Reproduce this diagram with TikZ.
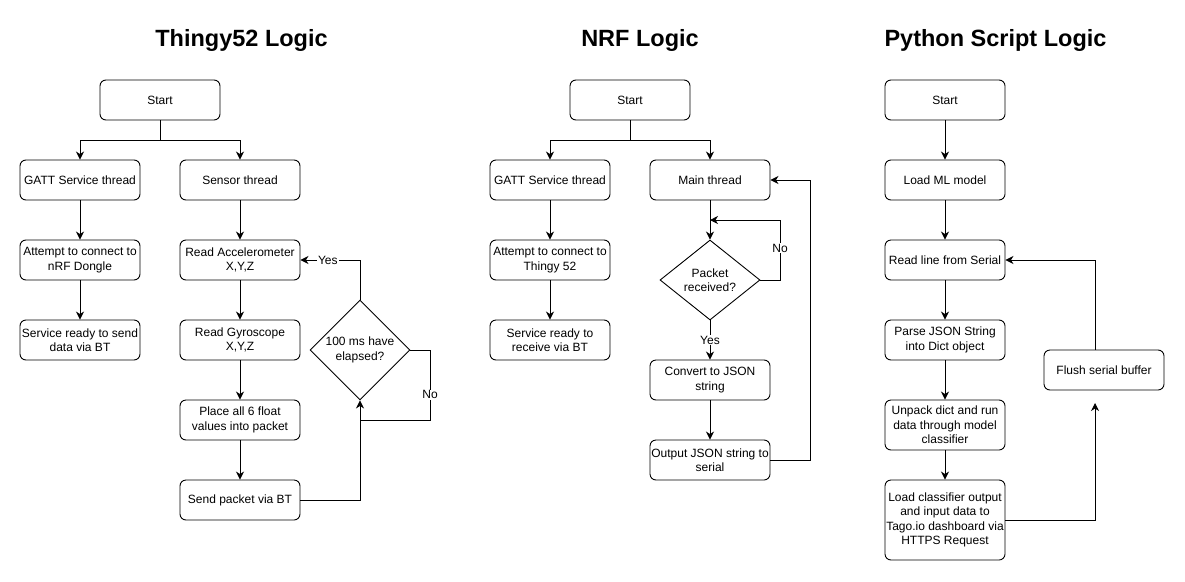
\documentclass[tikz,border=0pt]{standalone}
\usepackage{fontspec}
\setmainfont{Liberation Sans}
\usetikzlibrary{shapes.geometric,arrows.meta}
\tikzset{
  box/.style={draw, rounded corners=6pt, minimum width=120pt, minimum height=40pt, align=center, inner sep=1pt, font=\fontsize{12}{14.5}\selectfont, line width=0.9pt},
  dec/.style={draw, diamond, inner sep=0pt, align=center, font=\fontsize{12}{14.5}\selectfont, line width=0.9pt},
  title/.style={font=\fontsize{23.5}{26}\selectfont\bfseries},
  arr/.style={line width=0.9pt, -{Stealth[length=8pt,width=8pt,inset=2.5pt]}},
  ln/.style={line width=0.9pt},
  lbl/.style={fill=white, inner sep=1pt, font=\fontsize{12}{14}\selectfont}
}
\begin{document}
\begin{tikzpicture}[x=1pt,y=-1pt]
\useasboundingbox (0,0) rectangle (1185,581);
% titles
\node[title] (t1) at (241.5,40) {Thingy52 Logic};
\node[title] (t2) at (640,40) {NRF Logic};
\node[title] (t3) at (995.5,40) {Python Script Logic};
% ---------- Thingy52 ----------
\node[box] (s1) at (160,100) {Start};
\node[box] (g1) at (80,180) {GATT Service thread};
\node[box] (sen) at (240,180) {Sensor thread};
\node[box] (a1) at (80,260) {Attempt to connect to\\nRF Dongle};
\node[box] (acc) at (240,260) {Read Accelerometer\\X,Y,Z};
\node[box] (r1) at (80,340) {Service ready to send\\data via BT};
\node[box] (gyr) at (240,340) {Read Gyroscope\\X,Y,Z};
\node[box] (pl) at (240,420) {Place all 6 float\\values into packet};
\node[box] (snd) at (240,500) {Send packet via BT};
\node[dec, minimum width=100pt, minimum height=100pt] (d1) at (360,350) {100 ms have\\elapsed?};
\coordinate (b1) at (160,140);
\coordinate (n1a) at (430,350);
\coordinate (n1b) at (430,420);
\coordinate (n1c) at (360,420);
\draw[arr] (s1.south) -- (b1) -| (g1.north);
\draw[arr] (b1) -| (sen.north);
\draw[arr] (g1) -- (a1);
\draw[arr] (a1) -- (r1);
\draw[arr] (sen) -- (acc);
\draw[arr] (acc) -- (gyr);
\draw[arr] (gyr) -- (pl);
\draw[arr] (pl) -- (snd);
\draw[arr] (snd.east) -| (d1.south);
\draw[arr] (d1.north) |- node[lbl, pos=0.77] {Yes} (acc.east);
\draw[ln] (d1.east) -- (n1a) -- node[lbl, pos=0.64] {No} (n1b) -- (n1c);
% ---------- NRF ----------
\node[box] (s2) at (630,100) {Start};
\node[box] (g2) at (550,180) {GATT Service thread};
\node[box] (mt) at (710,180) {Main thread};
\node[box] (a2) at (550,260) {Attempt to connect to\\Thingy 52};
\node[box] (r2) at (550,340) {Service ready to\\receive via BT};
\node[dec, minimum width=100pt, minimum height=80pt] (d2) at (710,280) {Packet\\received?};
\node[box] (cv) at (710,380) {Convert to JSON\\string};
\node[box] (out) at (710,460) {Output JSON string to\\serial};
\coordinate (b2) at (630,140);
\coordinate (n2a) at (780,280);
\coordinate (n2b) at (780,220);
\coordinate (n2c) at (710,220);
\coordinate (o2a) at (810,460);
\coordinate (o2b) at (810,180);
\draw[arr] (s2.south) -- (b2) -| (g2.north);
\draw[arr] (b2) -| (mt.north);
\draw[arr] (g2) -- (a2);
\draw[arr] (a2) -- (r2);
\draw[arr] (mt) -- (d2);
\draw[arr] (d2.east) -- (n2a) -- node[lbl, pos=0.53] {No} (n2b) -- (n2c);
\draw[arr] (d2.south) -- node[lbl, pos=0.5] {Yes} (cv.north);
\draw[arr] (cv) -- (out);
\draw[arr] (out.east) -- (o2a) -- (o2b) -- (mt.east);
% ---------- Python ----------
\node[box] (s3) at (945,100) {Start};
\node[box] (ml) at (945,180) {Load ML model};
\node[box] (rl) at (945,260) {Read line from Serial};
\node[box] (pj) at (945,340) {Parse JSON String\\into Dict object};
\node[box, minimum height=50pt] (up) at (945,425) {Unpack dict and run\\data through model\\classifier};
\node[box, minimum height=80pt] (lc) at (945,520) {Load classifier output\\and input data to\\Tago.io dashboard via\\HTTPS Request};
\node[box] (fl) at (1104,370) {Flush serial buffer};
\coordinate (p1) at (1095,520);
\coordinate (p2) at (1095,403);
\coordinate (ft) at ([xshift=-9pt]fl.north);
\draw[arr] (s3) -- (ml);
\draw[arr] (ml) -- (rl);
\draw[arr] (rl) -- (pj);
\draw[arr] (pj) -- (up);
\draw[arr] (up) -- (lc);
\draw[arr] (lc.east) -- (p1) -- (p2);
\draw[arr] (ft) |- (rl.east);
\end{tikzpicture}
\end{document}
